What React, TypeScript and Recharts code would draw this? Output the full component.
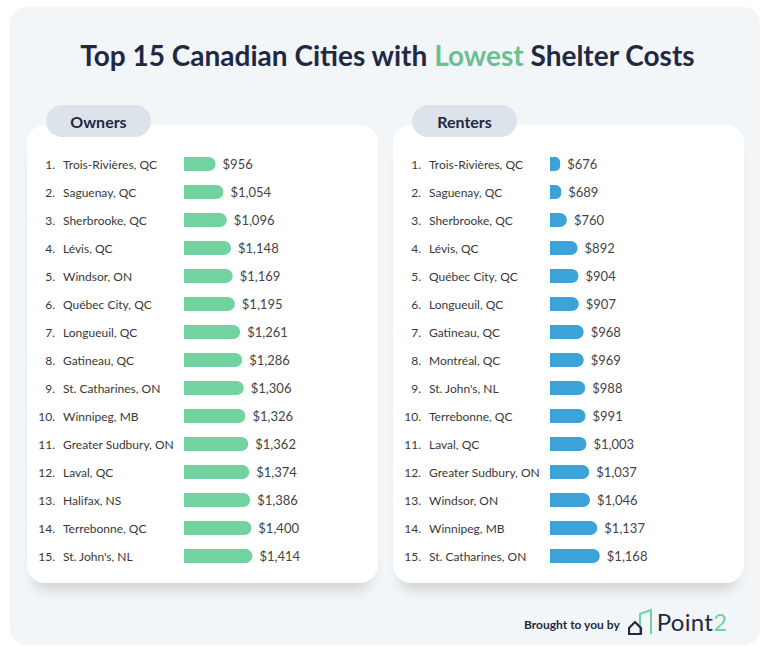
import React from 'react';
import { BarChart, Bar, XAxis, YAxis, LabelList } from 'recharts';

const ownerCities = [
  'Trois-Rivières, QC', 'Saguenay, QC', 'Sherbrooke, QC', 'Lévis, QC', 'Windsor, ON',
  'Québec City, QC', 'Longueuil, QC', 'Gatineau, QC', 'St. Catharines, ON', 'Winnipeg, MB',
  'Greater Sudbury, ON', 'Laval, QC', 'Halifax, NS', 'Terrebonne, QC', "St. John's, NL",
];
const ownerCosts = [956, 1054, 1096, 1148, 1169, 1195, 1261, 1286, 1306, 1326, 1362, 1374, 1386, 1400, 1414];

const renterCities = [
  'Trois-Rivières, QC', 'Saguenay, QC', 'Sherbrooke, QC', 'Lévis, QC', 'Québec City, QC',
  'Longueuil, QC', 'Gatineau, QC', 'Montréal, QC', "St. John's, NL", 'Terrebonne, QC',
  'Laval, QC', 'Greater Sudbury, ON', 'Windsor, ON', 'Winnipeg, MB', 'St. Catharines, ON',
];
const renterCosts = [676, 689, 760, 892, 904, 907, 968, 969, 988, 991, 1003, 1037, 1046, 1137, 1168];

const FONT = 'Lato, "Open Sans", sans-serif';
const NAVY = '#1f2943';
const GREEN = '#72d2a0';
const BLUE = '#3ba3d7';

const money = (v: number) => '$' + v.toLocaleString('en-US');

// rank + city name drawn in the y-axis gutter
const RowTick = (props: any) => {
  const { y, payload } = props;
  return (
    <g>
      <text x={28} y={y} dy={4.5} textAnchor="end" fontSize={12} fill="#383838" fontFamily={FONT}>
        {payload.index + 1}.
      </text>
      <text x={36} y={y} dy={4.5} textAnchor="start" fontSize={12} fill="#383838" fontFamily={FONT}>
        {payload.value}
      </text>
    </g>
  );
};

// value printed just past the end of each bar
const ValueLabel = (props: any) => {
  const { x, y, width, height, value } = props;
  return (
    <text x={x + width + 7} y={y + height / 2} dy={4.5} fontSize={13} fill="#444" fontFamily={FONT}>
      {money(Number(value))}
    </text>
  );
};

type PanelProps = {
  left: number;
  title: string;
  cities: string[];
  costs: number[];
  color: string;
  domain: [number, number];
};

const Panel = ({ left, title, cities, costs, color, domain }: PanelProps) => {
  const rows = cities.map((city, i) => ({ city, cost: costs[i] }));
  return (
    <>
      <div
        style={{
          position: 'absolute', left, top: 125, width: 351, height: 458,
          background: '#fff', borderRadius: 18,
          boxShadow: '0 14px 14px -8px rgba(0,0,0,0.16)',
        }}
      />
      <div
        style={{
          position: 'absolute', left: left + 19, top: 105, width: 105, height: 32,
          background: '#dde3ea', borderRadius: 16, display: 'flex',
          alignItems: 'center', justifyContent: 'center',
          fontFamily: FONT, fontWeight: 700, fontSize: 16, color: NAVY,
        }}
      >
        {title}
      </div>
      <div style={{ position: 'absolute', left, top: 150 }}>
        <BarChart
          layout="vertical"
          width={350}
          height={420}
          data={rows}
          margin={{ top: 0, right: 0, bottom: 0, left: 0 }}
        >
          <XAxis type="number" domain={domain} hide allowDataOverflow />
          <YAxis
            type="category"
            dataKey="city"
            width={157}
            axisLine={false}
            tickLine={false}
            interval={0}
            tick={<RowTick />}
          />
          <Bar dataKey="cost" fill={color} barSize={14} radius={[0, 7, 7, 0]} isAnimationActive={false}>
            <LabelList dataKey="cost" content={<ValueLabel />} />
          </Bar>
        </BarChart>
      </div>
    </>
  );
};

const Logo = () => (
  <svg width={26} height={28} viewBox="0 0 26 28" style={{ marginRight: 3 }}>
    <path d="M12 26 V6 L23 2 V26" fill="none" stroke={GREEN} strokeWidth={2} />
    <path d="M1 26 V20 L7 14 L13 20 V26 Z" fill="none" stroke={NAVY} strokeWidth={2.2} strokeLinejoin="round" />
  </svg>
);

export default function App() {
  return (
    <div style={{ position: 'absolute', left: 0, top: 0, width: 775, height: 655, background: '#fff', overflow: 'hidden' }}>
      <div
        style={{
          position: 'absolute', left: 10, top: 7, width: 750, height: 638,
          background: '#f3f6f8', borderRadius: 16,
        }}
      />
      <div
        style={{
          position: 'absolute', left: 0, top: 38, width: 775, textAlign: 'center',
          fontFamily: FONT, fontWeight: 700, fontSize: 28, color: NAVY,
        }}
      >
        Top 15 Canadian Cities with <span style={{ color: '#6cbf8f' }}>Lowest</span> Shelter Costs
      </div>
      <Panel left={27} title="Owners" cities={ownerCities} costs={ownerCosts} color={GREEN} domain={[564, 2960]} />
      <Panel left={393} title="Renters" cities={renterCities} costs={renterCosts} color={BLUE} domain={[550, 2945]} />
      <div
        style={{
          position: 'absolute', left: 524, top: 607, display: 'flex', alignItems: 'center',
          fontFamily: FONT,
        }}
      >
        <span style={{ fontWeight: 700, fontSize: 12, color: NAVY, marginRight: 8, marginTop: 6 }}>Brought to you by</span>
        <Logo />
        <span style={{ fontSize: 24, color: NAVY, letterSpacing: 0.3 }}>
          Point<span style={{ color: GREEN }}>2</span>
        </span>
      </div>
    </div>
  );
}
